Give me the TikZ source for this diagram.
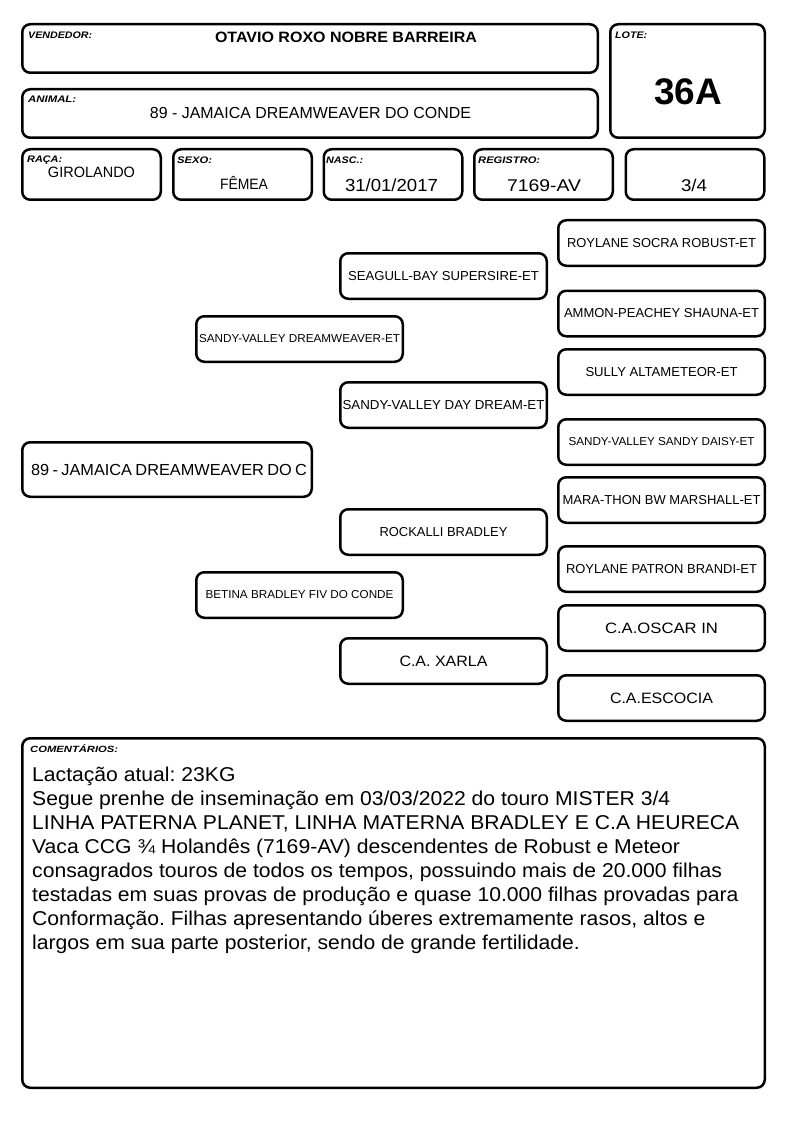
\documentclass[tikz,border=0pt]{standalone}
\usepackage{fontspec}
\setmainfont{Liberation Sans}
\usepackage{graphicx}
\frenchspacing
\newcommand{\sz}[1]{\fontsize{#1}{#1}\selectfont}
\newcommand{\fitw}[2]{\resizebox{#1}{\height}{#2}}
\tikzstyle{roundRec} = [rectangle, rounded corners=8pt, line width=2.5pt, draw=black, inner sep=0pt]
\tikzstyle{smallRec} = [roundRec, minimum width=138.5pt, minimum height=50.5pt]
\tikzstyle{pedRec} = [roundRec, minimum width=206.5pt, minimum height=45.5pt, text centered]
\tikzstyle{lbl} = [inner sep=0pt, anchor=base west, font=\sz{9.5}\bfseries\itshape]
\tikzstyle{val} = [inner sep=0pt, anchor=base]

\begin{document}
\begin{tikzpicture}[x=1pt, y=-1pt]
		\useasboundingbox (0,0) rectangle (794,1123);
		% header
		\node (vendedor) [roundRec, minimum width=575.5pt, minimum height=48.5pt] at (310,48.5) {};
		\node (animal) [roundRec, minimum width=575.5pt, minimum height=48.5pt] at (310,113.5) {};
		\node (lote) [roundRec, minimum width=154.5pt, minimum height=113.5pt] at (687.5,81) {};
		\node (raca) [smallRec] at (91.5,174.5) {};
		\node (sexo) [smallRec] at (242.5,174.5) {};
		\node (nasc) [smallRec] at (393,174.5) {};
		\node (registro) [smallRec] at (543.5,174.5) {};
		\node (grau) [smallRec] at (695,174.5) {};
		\node (vendLbl) [lbl] at (28,39) {\fitw{64pt}{VENDEDOR:}};
		\node (loteLbl) [lbl] at (615,39) {\fitw{32pt}{LOTE:}};
		\node (animalLbl) [lbl] at (28,103) {\fitw{48pt}{ANIMAL:}};
		\node (racaLbl) [lbl] at (27,163) {\fitw{35pt}{RAÇA:}};
		\node (sexoLbl) [lbl] at (177,164) {\fitw{35pt}{SEXO:}};
		\node (nascLbl) [lbl] at (326,164) {\fitw{37pt}{NASC.:}};
		\node (registroLbl) [lbl] at (478,164) {\fitw{62pt}{REGISTRO:}};
		\node (vendVal) [val] at (346,43) {\sz{15}\bfseries\fitw{262pt}{OTAVIO ROXO NOBRE BARREIRA}};
		\node (loteVal) [val] at (688,105) {\sz{37}\bfseries 36A};
		\node (animalVal) [val] at (310.5,119) {\sz{16}\fitw{321pt}{89 - JAMAICA DREAMWEAVER DO CONDE}};
		\node (racaVal) [val] at (91.5,178) {\sz{15}\fitw{87pt}{GIROLANDO}};
		\node (sexoVal) [val] at (244,190) {\sz{15}\fitw{48pt}{FÊMEA}};
		\node (nascVal) [val] at (391.5,192) {\sz{17.5}\fitw{93pt}{31/01/2017}};
		\node (registroVal) [val] at (544,192) {\sz{17}\fitw{74pt}{7169-AV}};
		\node (grauVal) [val] at (694,192) {\sz{17}\fitw{26pt}{3/4}};
		% pedigree
		\node (self) [roundRec, minimum width=289.5pt, minimum height=54.5pt, text width=272pt, inner xsep=8.75pt, align=left] at (167,469.5) {\sz{16}\fitw{276pt}{89 - JAMAICA DREAMWEAVER DO C}};
		\node (sire) [pedRec] at (299.5,339) {\sz{11.5}\fitw{201pt}{SANDY-VALLEY DREAMWEAVER-ET}};
		\node (dam) [pedRec] at (299.5,595) {\sz{11.5}\fitw{188pt}{BETINA BRADLEY FIV DO CONDE}};
		\node (sireSire) [pedRec] at (443.5,276) {\sz{13}\fitw{191pt}{SEAGULL-BAY SUPERSIRE-ET}};
		\node (sireDam) [pedRec] at (443.5,405) {\sz{13}\fitw{202pt}{SANDY-VALLEY DAY DREAM-ET}};
		\node (damSire) [pedRec] at (443.5,532) {\sz{13}\fitw{128pt}{ROCKALLI BRADLEY}};
		\node (damDam) [pedRec] at (443.5,661) {\sz{15}\fitw{88pt}{C.A. XARLA}};
		\node (ssSire) [pedRec] at (661.5,243) {\sz{13}\fitw{189pt}{ROYLANE SOCRA ROBUST-ET}};
		\node (ssDam) [pedRec] at (661.5,313.5) {\sz{13}\fitw{195pt}{AMMON-PEACHEY SHAUNA-ET}};
		\node (sdSire) [pedRec] at (661.5,372) {\sz{13}\fitw{152pt}{SULLY ALTAMETEOR-ET}};
		\node (sdDam) [pedRec] at (661.5,442) {\sz{11.5}\fitw{186pt}{SANDY-VALLEY SANDY DAISY-ET}};
		\node (dsSire) [pedRec] at (661.5,500) {\sz{13}\fitw{198pt}{MARA-THON BW MARSHALL-ET}};
		\node (dsDam) [pedRec] at (661.5,569) {\sz{13}\fitw{191pt}{ROYLANE PATRON BRANDI-ET}};
		\node (ddSire) [pedRec] at (661.5,628) {\sz{15}\fitw{113pt}{C.A.OSCAR IN}\hspace{11.4pt}};
		\node (ddDam) [pedRec] at (661.5,698) {\sz{15}\fitw{103pt}{C.A.ESCOCIA}};
		% comments
		\node (comentarios) [roundRec, minimum width=742.5pt, minimum height=349.5pt] at (393.5,913) {};
		\node (comLbl) [lbl, font=\sz{9}\bfseries\itshape] at (30,752) {\fitw{88pt}{COMENTÁRIOS:}};
		\node (comText) [inner sep=0pt, anchor=base west, font=\fontsize{20}{24}\selectfont] at (32,781) {%
			\scalebox{1.057}[1]{\begin{tabular}[t]{@{}l@{}}
			Lactação atual: 23KG\\
			Segue prenhe de inseminação em 03/03/2022 do touro MISTER 3/4\\
			LINHA PATERNA PLANET, LINHA MATERNA BRADLEY E C.A HEURECA\\
			Vaca CCG ¾ Holandês (7169-AV) descendentes de Robust e Meteor\\
			consagrados touros de todos os tempos, possuindo mais de 20.000 filhas\\
			testadas em suas provas de produção e quase 10.000 filhas provadas para\\
			Conformação. Filhas apresentando úberes extremamente rasos, altos e\\
			largos em sua parte posterior, sendo de grande fertilidade.
			\end{tabular}}};
	\end{tikzpicture}
\end{document}
